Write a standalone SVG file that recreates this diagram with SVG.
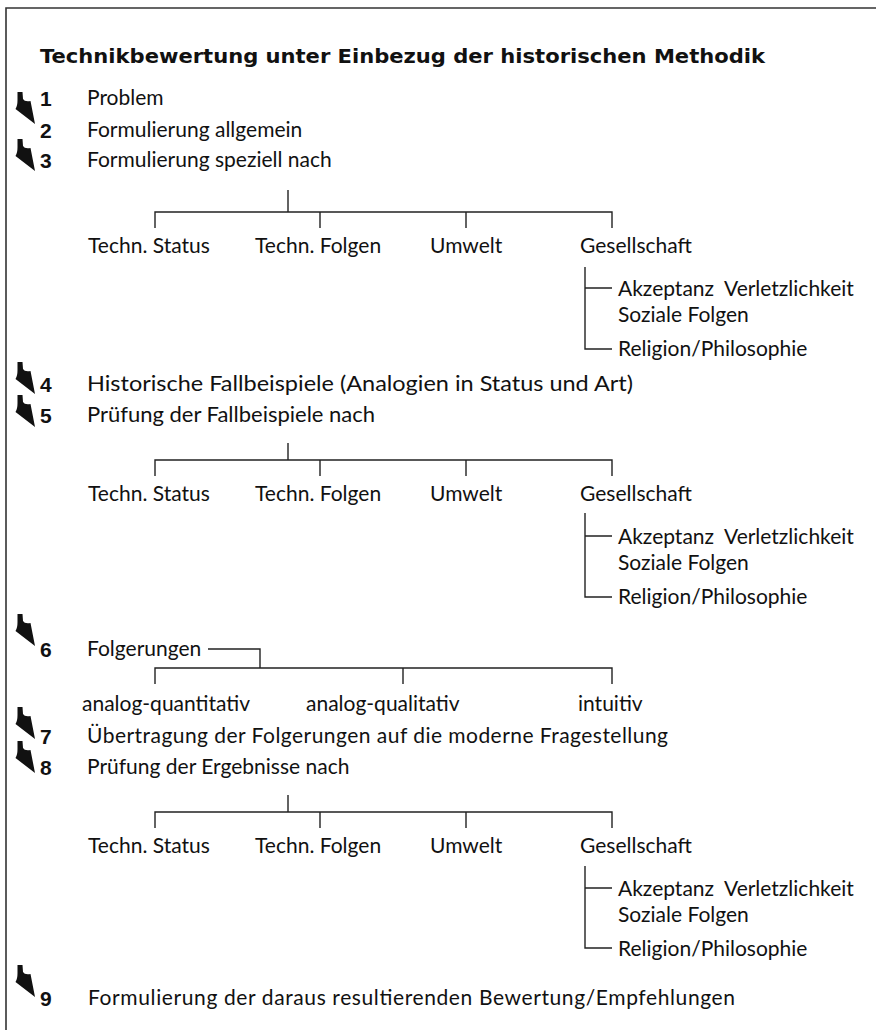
<svg xmlns="http://www.w3.org/2000/svg" width="876" height="1030" viewBox="0 0 876 1030">
<style>
.t{font-family:"Lato","Liberation Sans",sans-serif;font-size:21px;fill:#111}
.n{font-family:"Liberation Sans","Lato",sans-serif;font-size:21px;font-weight:bold;fill:#111}
.h{font-family:"DejaVu Sans","Liberation Sans",sans-serif;font-size:20px;font-weight:bold;fill:#111}
.ln{stroke:#222;stroke-width:1.4;fill:none}
.fr{stroke:#333;stroke-width:1.6;fill:none}
</style>
<defs>
<path id="arr" d="M0.5 0 L5.5 0 L6 7 Q7.5 10 13.5 9 L18 32 L-1.5 17 Q0.5 14 0.5 8 Z" fill="#111"/>
</defs>
<path class="fr" d="M6 1030 V8 H876"/>
<g id="title"><text class="h" x="40" y="63" textLength="725" lengthAdjust="spacingAndGlyphs">Technikbewertung unter Einbezug der historischen Methodik</text></g>
<g id="arrows">
<use href="#arr" x="17" y="92"/>
<use href="#arr" x="17" y="139"/>
<use href="#arr" x="17" y="362"/>
<use href="#arr" x="17" y="395"/>
<use href="#arr" x="17" y="614"/>
<use href="#arr" x="17" y="707"/>
<use href="#arr" x="17" y="741"/>
<use href="#arr" x="17" y="965"/>
</g>
<g id="step1"><text class="n" x="40" y="106">1</text><text class="t" x="87" y="105">Problem</text></g>
<g id="step2"><text class="n" x="40" y="138">2</text><text class="t" x="87" y="137">Formulierung allgemein</text></g>
<g id="step3"><text class="n" x="40" y="168">3</text><text class="t" x="87" y="167">Formulierung speziell nach</text></g>
<g id="tree1">
<path class="ln" d="M288 190 V212 M155 228 V212 H612 V228 M320 212 V228 M466 212 V228"/>
<text class="t" x="88" y="253">Techn. Status</text>
<text class="t" x="255" y="253">Techn. Folgen</text>
<text class="t" x="430" y="253">Umwelt</text>
<text class="t" x="580" y="253">Gesellschaft</text>
<path class="ln" d="M585 267 V349 H612 M585 288 H612"/>
<text class="t" x="618" y="296">Akzeptanz</text><text class="t" x="724" y="296">Verletzlichkeit</text>
<text class="t" x="618" y="322">Soziale Folgen</text>
<text class="t" x="618" y="356">Religion/Philosophie</text>
</g>
<g id="step4"><text class="n" x="40" y="392">4</text><text class="t" x="87" y="391" textLength="546" lengthAdjust="spacingAndGlyphs">Historische Fallbeispiele (Analogien in Status und Art)</text></g>
<g id="step5"><text class="n" x="40" y="423">5</text><text class="t" x="87" y="422" textLength="288" lengthAdjust="spacingAndGlyphs">Prüfung der Fallbeispiele nach</text></g>
<g id="tree2">
<path class="ln" d="M288 443 V460 M155 476 V460 H612 V476 M320 460 V476 M466 460 V476"/>
<text class="t" x="88" y="501">Techn. Status</text>
<text class="t" x="255" y="501">Techn. Folgen</text>
<text class="t" x="430" y="501">Umwelt</text>
<text class="t" x="580" y="501">Gesellschaft</text>
<path class="ln" d="M585 513 V597 H612 M585 536 H612"/>
<text class="t" x="618" y="544">Akzeptanz</text><text class="t" x="724" y="544">Verletzlichkeit</text>
<text class="t" x="618" y="570">Soziale Folgen</text>
<text class="t" x="618" y="604">Religion/Philosophie</text>
</g>
<g id="step6"><text class="n" x="40" y="657">6</text><text class="t" x="87" y="656">Folgerungen</text>
<path class="ln" d="M208 649 H260 V668 M155 684 V668 H612 V684 M403 668 V684"/>
<text class="t" x="82" y="711">analog-quantitativ</text>
<text class="t" x="306" y="711">analog-qualitativ</text>
<text class="t" x="578" y="711">intuitiv</text>
</g>
<g id="step7"><text class="n" x="40" y="744">7</text><text class="t" x="87" y="743" textLength="581">Übertragung der Folgerungen auf die moderne Fragestellung</text></g>
<g id="step8"><text class="n" x="40" y="775">8</text><text class="t" x="87" y="774">Prüfung der Ergebnisse nach</text></g>
<g id="tree3">
<path class="ln" d="M288 795 V812 M155 828 V812 H612 V828 M320 812 V828 M466 812 V828"/>
<text class="t" x="88" y="853">Techn. Status</text>
<text class="t" x="255" y="853">Techn. Folgen</text>
<text class="t" x="430" y="853">Umwelt</text>
<text class="t" x="580" y="853">Gesellschaft</text>
<path class="ln" d="M585 866 V948 H612 M585 888 H612"/>
<text class="t" x="618" y="896">Akzeptanz</text><text class="t" x="724" y="896">Verletzlichkeit</text>
<text class="t" x="618" y="922">Soziale Folgen</text>
<text class="t" x="618" y="956">Religion/Philosophie</text>
</g>
<g id="step9"><text class="n" x="40" y="1006">9</text><text class="t" x="88" y="1005" textLength="647">Formulierung der daraus resultierenden Bewertung/Empfehlungen</text></g>
</svg>
